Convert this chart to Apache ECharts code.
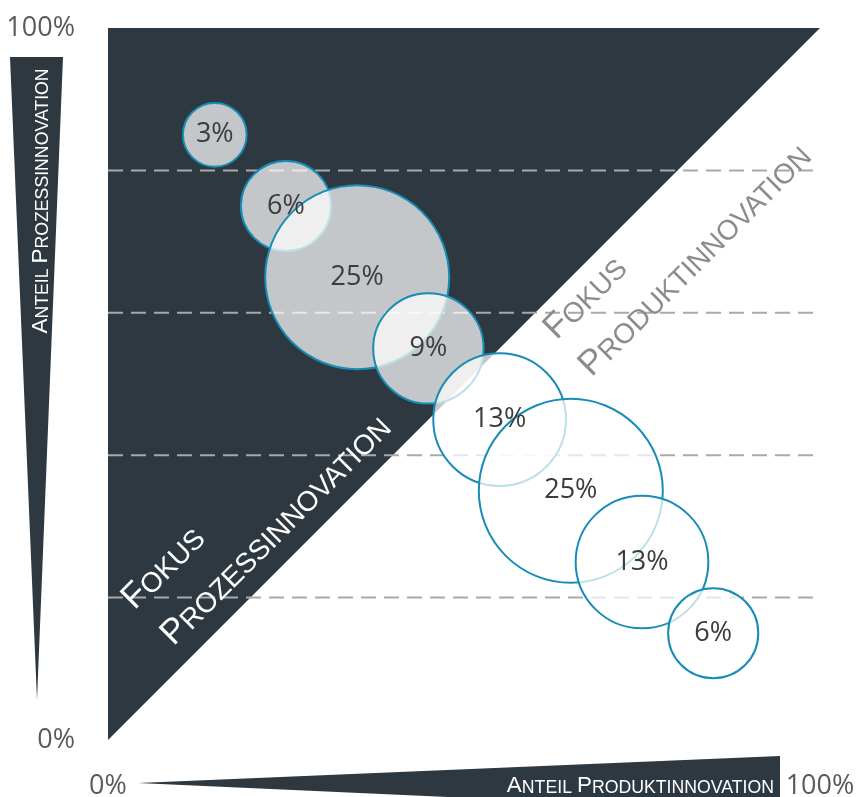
<!DOCTYPE html>
<html>
<head>
<meta charset="utf-8">
<script src="https://cdn.jsdelivr.net/npm/echarts@6/dist/echarts.min.js"></script>
<style>
  html, body { margin: 0; padding: 0; background: #ffffff; }
  #chart { width: 857px; height: 797px; }
</style>
</head>
<body>
<div id="chart"></div>
<script>
// Share of product innovation (x) and process innovation (y), in percent
const productShare = [15, 25, 35, 45, 55, 65, 75, 85];
const processShare = [85, 75, 65, 55, 45, 35, 25, 15];
// Share of companies in each group, in percent (bubble area)
const companyShare = [3, 6, 25, 9, 13, 25, 13, 6];
// Horizontal guide levels
const guideLevels = [20, 40, 60, 80];
// Corners of the process-focus zone (above the diagonal)
const processZone = [[0, 0], [0, 100], [100, 100]];

const DARK = '#2e3840';
const BLUE = '#178cb5';
const BUBBLE_SCALE = 36.8; // diameter per sqrt(percent)

const chart = echarts.init(document.getElementById('chart'), null, { renderer: 'canvas' });

const bubbleData = productShare.map((x, i) => [x, processShare[i], companyShare[i]]);

function smallCaps(big, small, color) {
  const font = '"Liberation Sans", Arial, sans-serif';
  return {
    b: { fontSize: big, fontFamily: font, fill: color, verticalAlign: 'bottom', lineHeight: big },
    s: { fontSize: small, fontFamily: font, fill: color, verticalAlign: 'bottom', lineHeight: big }
  };
}

const axisLabelStyle = {
  formatter: v => v + '%',
  fontSize: 27,
  fontFamily: '"Open Sans", sans-serif',
  color: '#5a5a5a'
};

chart.setOption({
  animation: false,
  grid: { left: 108, top: 28, width: 712, height: 712, containLabel: false, outerBoundsMode: 'none' },
  xAxis: {
    type: 'value', min: 0, max: 100, interval: 100,
    axisLine: { show: false }, axisTick: { show: false }, splitLine: { show: false },
    axisLabel: Object.assign({ margin: 33 }, axisLabelStyle)
  },
  yAxis: {
    type: 'value', min: 0, max: 100, interval: 100,
    axisLine: { show: false }, axisTick: { show: false }, splitLine: { show: false },
    axisLabel: Object.assign({ margin: 33, padding: [5, 0, 0, 0] }, axisLabelStyle)
  },
  series: [
    {
      type: 'custom',
      silent: true,
      data: [[0, 0]],
      renderItem: (params, api) => {
        const children = [{
          type: 'polygon',
          shape: { points: processZone.map(p => api.coord(p)) },
          style: { fill: DARK }
        }];
        guideLevels.forEach(v => {
          const a = api.coord([0, v]);
          const b = api.coord([100, v]);
          children.push({
            type: 'line',
            shape: { x1: a[0], y1: a[1], x2: b[0], y2: b[1] },
            style: { stroke: '#a9a9a9', lineWidth: 2, lineDash: [15, 8] }
          });
        });
        return { type: 'group', children };
      }
    },
    {
      type: 'scatter',
      data: bubbleData,
      symbol: 'circle',
      symbolSize: d => BUBBLE_SCALE * Math.sqrt(d[2]),
      itemStyle: { color: 'rgba(255,255,255,0.72)', borderColor: BLUE, borderWidth: 2, opacity: 1 },
      label: {
        show: true, position: 'inside',
        formatter: p => p.value[2] + '%',
        fontSize: 27, fontFamily: '"Open Sans", sans-serif', color: '#3c3c3c'
      },
      emphasis: { disabled: true }
    }
  ],
  graphic: [
    // vertical wedge: process share
    { type: 'polygon', z: 100, shape: { points: [[10, 57], [63, 57], [37, 700]] }, style: { fill: DARK } },
    {
      type: 'text', z: 101, x: 52, y: 201, rotation: Math.PI / 2,
      style: {
        text: '{b|A}{s|NTEIL }{b|P}{s|ROZESSINNOVATION}',
        rich: smallCaps(22.5, 17.7, '#ffffff'),
        align: 'center', verticalAlign: 'bottom'
      }
    },
    // horizontal wedge: product share
    { type: 'polygon', z: 100, shape: { points: [[138, 783], [780, 756], [780, 812]] }, style: { fill: DARK } },
    {
      type: 'text', z: 101, x: 774, y: 797,
      style: {
        text: '{b|A}{s|NTEIL }{b|P}{s|RODUKTINNOVATION}',
        rich: smallCaps(22.5, 17.7, '#ffffff'),
        align: 'right', verticalAlign: 'bottom'
      }
    },
    // zone captions along the diagonal
    {
      type: 'text', z: 101, x: 562, y: 346, rotation: Math.PI / 4,
      style: { text: '{b|F}{s|OKUS}', rich: smallCaps(35, 28, '#8c8c8c'), align: 'left', verticalAlign: 'bottom' }
    },
    {
      type: 'text', z: 101, x: 597, y: 383, rotation: Math.PI / 4,
      style: { text: '{b|P}{s|RODUKTINNOVATION}', rich: smallCaps(35, 28, '#8c8c8c'), align: 'left', verticalAlign: 'bottom' }
    },
    {
      type: 'text', z: 101, x: 140, y: 616, rotation: Math.PI / 4,
      style: { text: '{b|F}{s|OKUS}', rich: smallCaps(35, 28, '#ffffff'), align: 'left', verticalAlign: 'bottom' }
    },
    {
      type: 'text', z: 101, x: 179, y: 652, rotation: Math.PI / 4,
      style: { text: '{b|P}{s|ROZESSINNOVATION}', rich: smallCaps(35, 28, '#ffffff'), align: 'left', verticalAlign: 'bottom' }
    }
  ]
});
</script>
</body>
</html>
